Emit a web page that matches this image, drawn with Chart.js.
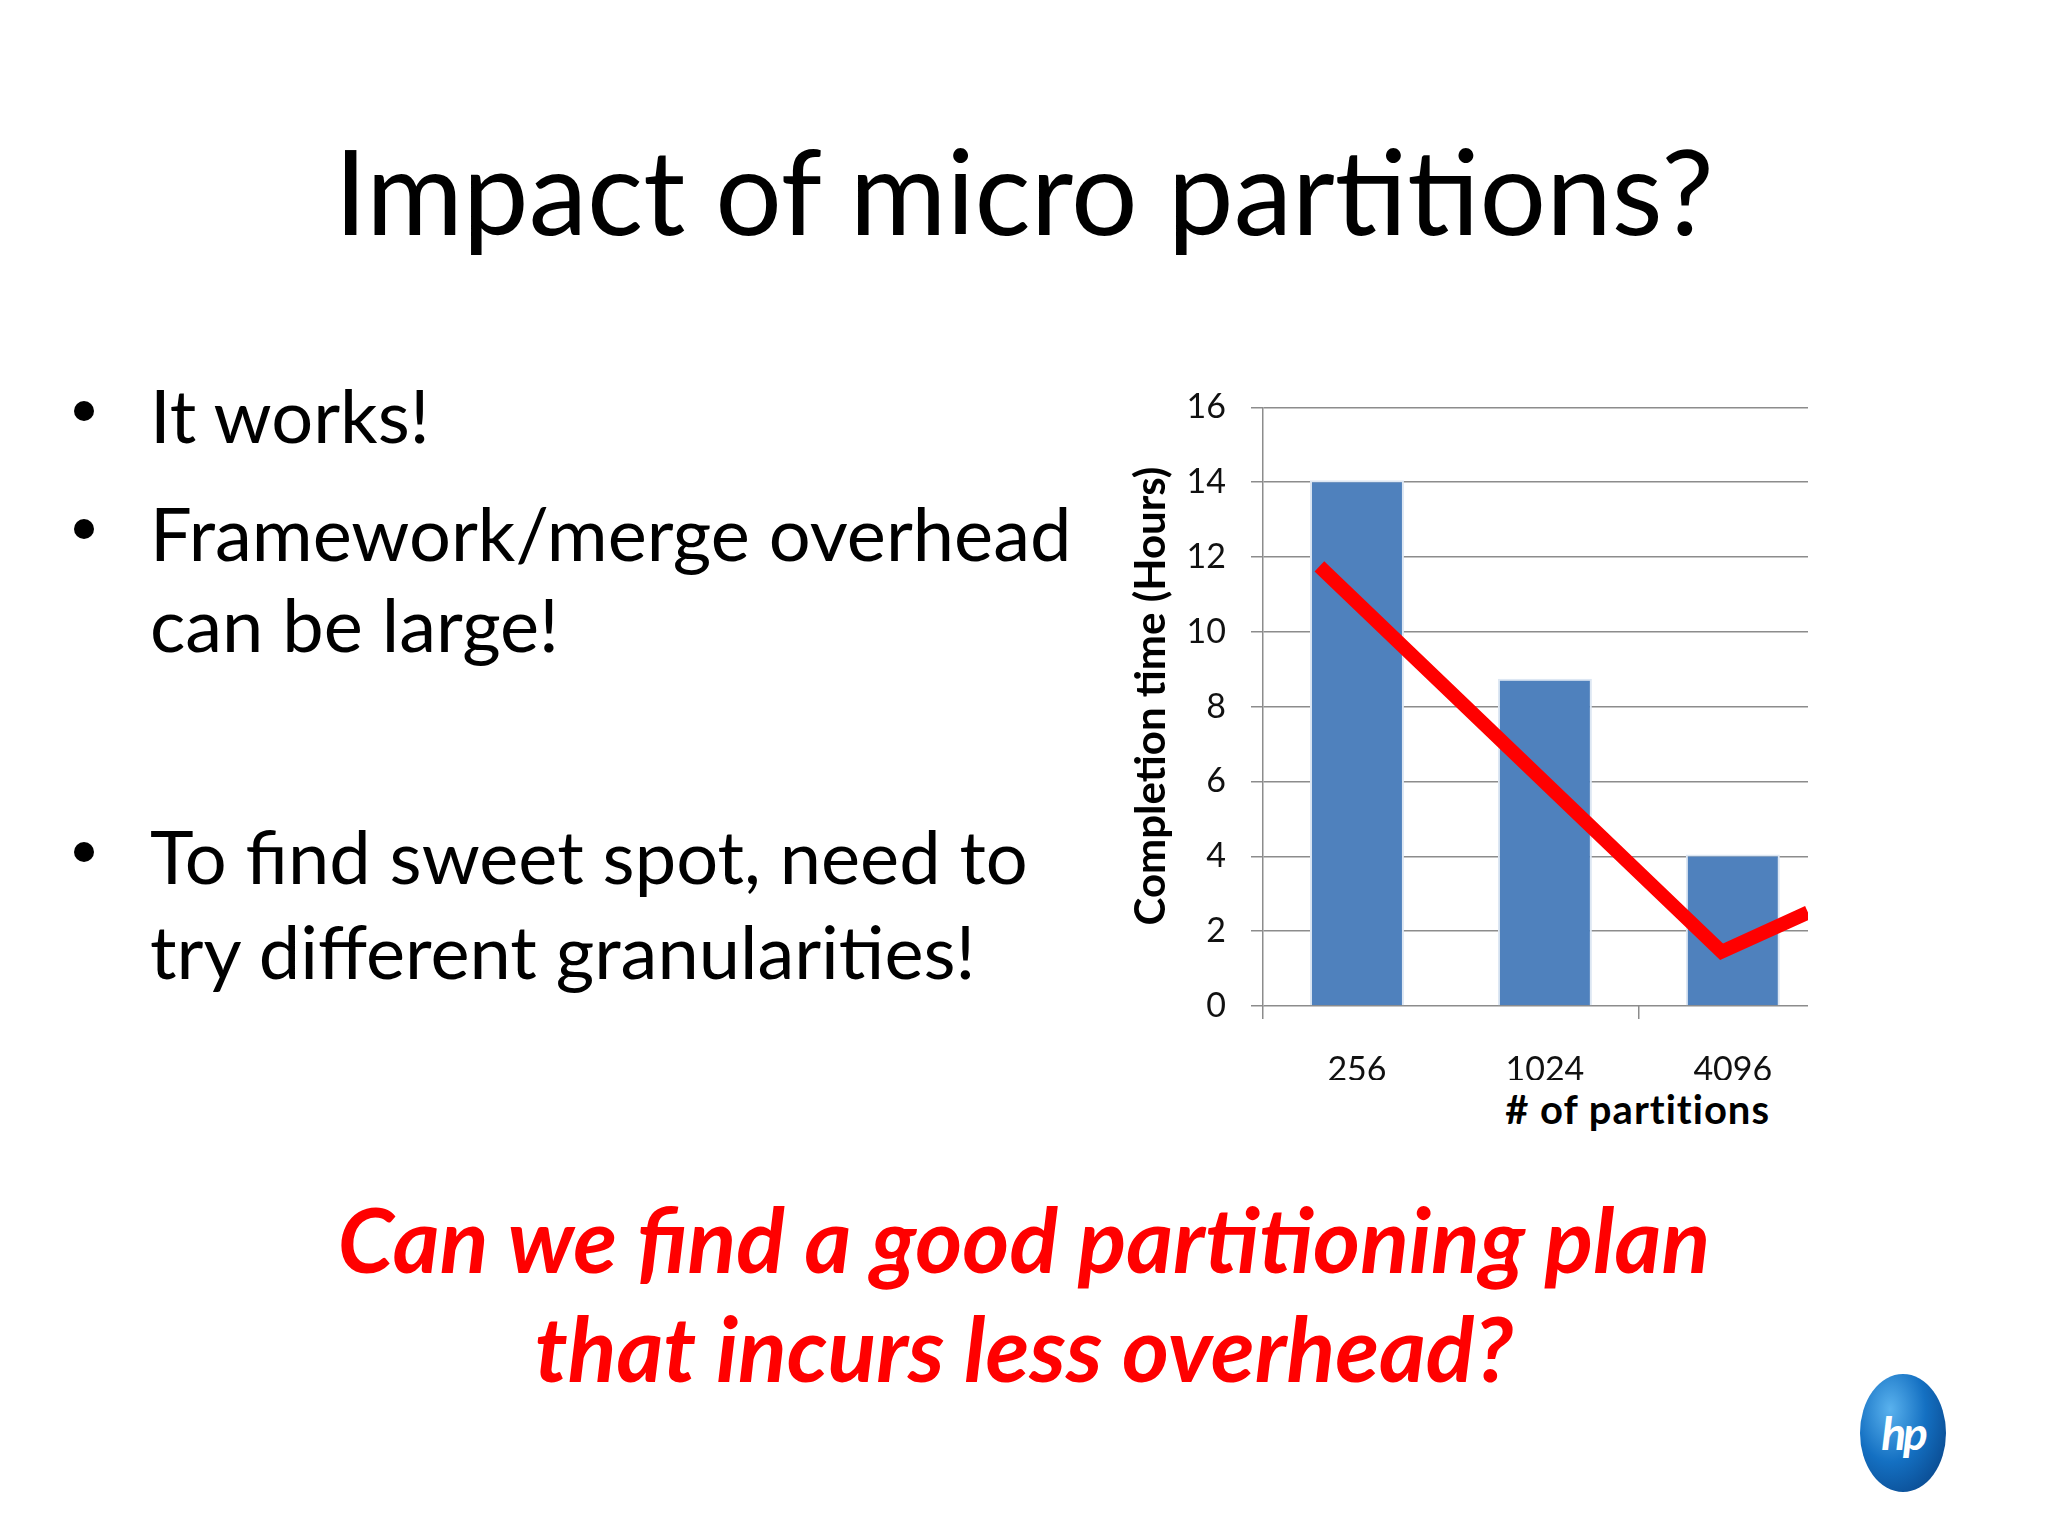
<!DOCTYPE html>
<html>
<head>
<meta charset="utf-8">
<script src="https://cdn.jsdelivr.net/npm/chart.js@4.4.1/dist/chart.umd.min.js"></script>
<style>
  html, body { margin: 0; padding: 0; background: #fff; }
  body { width: 2048px; height: 1536px; position: relative; overflow: hidden; font-family: Lato, "Open Sans", sans-serif; color: #000; }
  .abs { position: absolute; line-height: 1; white-space: nowrap; }
  #title { left: 0; width: 2048px; text-align: center; top: 131px; font-size: 117.5px; }
  .bullet { left: 150px; font-size: 74px; }
  .dot { position: absolute; left: -76px; top: 23px; width: 20px; height: 20px; border-radius: 50%; background: #000; }
  .red { left: 0; width: 2048px; text-align: center; font-size: 90px; font-weight: bold; font-style: italic; color: #ff0000; }
  #chartBox { position: absolute; left: 1120px; top: 362px; width: 700px; height: 718px; }
  #yTitle { left: 849px; top: 674.5px; width: 600px; text-align: center; font-size: 42px; font-weight: bold; transform: rotate(-90deg); }
  #xTitle { right: 278px; top: 1089px; font-size: 40px; font-weight: bold; letter-spacing: 1px; }
  #hp { position: absolute; left: 1860px; top: 1374px; width: 86px; height: 118px; border-radius: 50%;
        background: radial-gradient(ellipse at 35% 30%, #5ab2ee 0%, #1470c2 45%, #063a7a 100%); }
  #hp span { position: absolute; left: 0; top: 0; width: 86px; height: 118px; text-align: center;
             color: #fff; font: italic bold 46px Lato, sans-serif; line-height: 118px; letter-spacing: -3px; }
</style>
</head>
<body>
<div id="title" class="abs">Impact of micro partitions?</div>

<div class="abs bullet" style="top:378px"><span class="dot"></span>It works!</div>
<div class="abs bullet" style="top:496px"><span class="dot"></span>Framework/merge overhead</div>
<div class="abs bullet" style="top:587px">can be large!</div>
<div class="abs bullet" style="top:819px"><span class="dot"></span>To find sweet spot, need to</div>
<div class="abs bullet" style="top:914px">try different granularities!</div>

<div id="chartBox"><canvas id="bar-chart"></canvas></div>
<div id="yTitle" class="abs">Completion time (Hours)</div>
<div id="xTitle" class="abs"># of partitions</div>

<div class="abs red" style="top:1193px">Can we find a good partitioning plan</div>
<div class="abs red" style="top:1302px">that incurs less overhead?</div>

<div id="hp"><span>hp</span></div>

<script>
// data
var partitions = ["256", "1024", "4096"];
var completionHours = [14.05, 8.75, 4.05];
var yTicks = [0, 2, 4, 6, 8, 10, 12, 14, 16];

// hand drawn red trend stroke (x in category units, category i is centred at i + 0.5)
var trendX = [0.30, 2.44, 2.90];
var trendY = [11.75, 1.45, 2.5];

// the plot stops a little before the end of the third category
var xMax = 2.9;

var gridGray = "#8c8c8c";

new Chart(document.getElementById("bar-chart"), {
    type: 'bar',
    data: {
        datasets: [
            {
                label: "Completion time",
                backgroundColor: "#4f81bd",
                borderColor: "#dde7f3",
                borderWidth: 2,
                barPercentage: 0.5,
                categoryPercentage: 1,
                data: completionHours.map(function (v, i) { return { x: i + 0.5, y: v }; }),
                order: 2
            },
            {
                type: 'line',
                label: "trend",
                data: trendX.map(function (x, i) { return { x: x, y: trendY[i] }; }),
                borderColor: "#ff0000",
                borderWidth: 14,
                pointRadius: 0,
                borderCapStyle: 'butt',
                borderJoinStyle: 'miter',
                order: 1
            }
        ]
    },
    options: {
        responsive: true,
        maintainAspectRatio: false,
        animation: false,
        layout: { padding: { left: 0, right: 12, top: 0, bottom: 0 } },
        plugins: {
            legend: { display: false },
            tooltip: { enabled: false }
        },
        scales: {
            x: {
                type: 'linear',
                min: 0,
                max: xMax,
                offset: false,
                afterFit: function (scale) { scale.height = 74; },
                afterBuildTicks: function (scale) { scale.ticks = partitions.map(function (p, i) { return { value: i + 0.5 }; }); },
                grid: {
                    offset: true,
                    drawOnChartArea: false,
                    tickLength: 13,
                    lineWidth: 1.5,
                    color: function (ctx) { return (ctx.index === 0 || ctx.index === 2) ? gridGray : 'rgba(0,0,0,0)'; }
                },
                border: { display: false },
                ticks: {
                    color: "#111",
                    padding: 31,
                    maxRotation: 0,
                    font: { family: "Lato", size: 34 },
                    callback: function (value, index) { return partitions[index]; }
                }
            },
            y: {
                min: 0,
                max: 16,
                afterFit: function (scale) { scale.width = 143; },
                afterBuildTicks: function (scale) { scale.ticks = yTicks.map(function (v) { return { value: v }; }); },
                grid: { color: gridGray, lineWidth: 1.5, tickLength: 12 },
                border: { display: true, color: gridGray, width: 1.5 },
                ticks: { color: "#111", padding: 25, font: { family: "Lato", size: 34 } }
            }
        }
    }
});
</script>
</body>
</html>
